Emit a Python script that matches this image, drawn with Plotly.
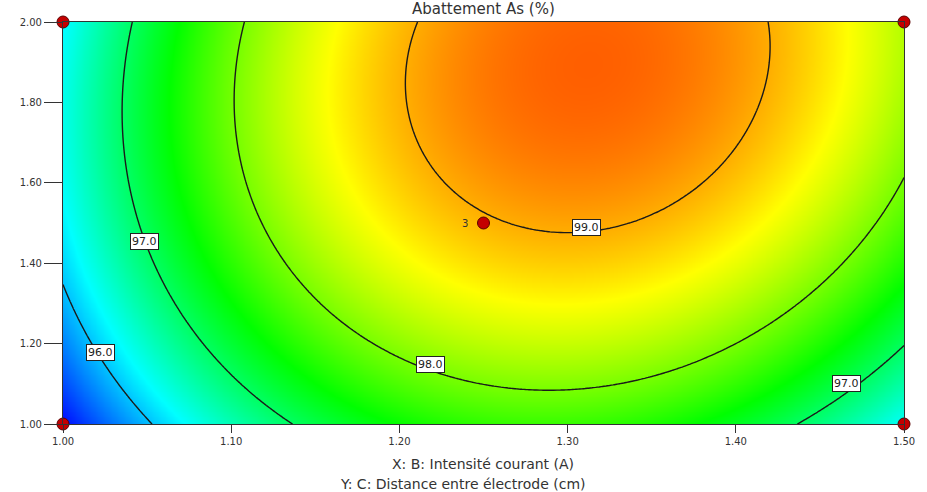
import numpy as np
import plotly.graph_objects as go

# ---- data ----
# Quadratic response model (coded units: a=(X-1.25)/0.25, b=(Y-1.5)/0.5), estimated from the contours
model_terms = ["const", "a", "b", "a2", "b2", "ab"]
model_coefs = [98.96, 0.792, 0.773, -1.95, -0.526, 0.222]

x_range = [1.00, 1.50]
y_range = [1.00, 2.00]
x_ticks = [1.00, 1.10, 1.20, 1.30, 1.40, 1.50]
y_ticks = [1.00, 1.20, 1.40, 1.60, 1.80, 2.00]
contour_levels = [96.0, 97.0, 98.0, 99.0]

# design points
design_x = [1.00, 1.00, 1.50, 1.50, 1.25]
design_y = [1.00, 2.00, 1.00, 2.00, 1.50]
design_txt = ["", "", "", "", "3"]

# contour label positions
label_x = [1.0225, 1.0486, 1.2186, 1.311, 1.4656]
label_y = [1.177, 1.455, 1.149, 1.490, 1.102]
label_txt = ["96.0", "97.0", "98.0", "99.0", "97.0"]

color_min, color_max = 95.1, 99.8

# ---- surface ----
xs = np.linspace(x_range[0], x_range[1], 241)
ys = np.linspace(y_range[0], y_range[1], 241)
X, Y = np.meshgrid(xs, ys)
A = (X - 1.25) / 0.25
B = (Y - 1.5) / 0.5
c = dict(zip(model_terms, model_coefs))
Z = c["const"] + c["a"] * A + c["b"] * B + c["a2"] * A**2 + c["b2"] * B**2 + c["ab"] * A * B

colorscale = [
    [0.0, "rgb(0,0,255)"],
    [0.25, "rgb(0,255,255)"],
    [0.5, "rgb(0,255,0)"],
    [0.75, "rgb(255,255,0)"],
    [1.0, "rgb(255,0,0)"],
]

fig = go.Figure()
fig.add_trace(go.Heatmap(x=xs, y=ys, z=Z, colorscale=colorscale, zmin=color_min, zmax=color_max,
                         zsmooth="best", showscale=False, hoverinfo="skip"))
fig.add_trace(go.Contour(x=xs, y=ys, z=Z, showscale=False, autocontour=False,
                         contours=dict(start=contour_levels[0], end=contour_levels[-1],
                                       size=1.0, showlabels=False, coloring="none"),
                         line=dict(color="#1a1a1a", width=1.4), hoverinfo="skip"))
fig.add_trace(go.Scatter(x=design_x, y=design_y, mode="markers", cliponaxis=False,
                         marker=dict(size=12, color="#c40000", line=dict(color="#5a0000", width=1)),
                         hoverinfo="skip", showlegend=False))

for xv, yv, t in zip(design_x, design_y, design_txt):
    if t:
        fig.add_annotation(x=xv, y=yv, text=t, showarrow=False, xanchor="right", xshift=-14,
                           font=dict(family="DejaVu Sans", size=10, color="#333"))

for xv, yv, t in zip(label_x, label_y, label_txt):
    fig.add_annotation(x=xv, y=yv, text=t, showarrow=False, bgcolor="white",
                       bordercolor="#222", borderwidth=1, borderpad=1,
                       font=dict(family="DejaVu Sans", size=11, color="#222"))

fig.add_annotation(text="Abattement As (%)", x=0.5, xref="paper", y=1.0, yref="paper",
                   yanchor="bottom", yshift=2, showarrow=False,
                   font=dict(family="DejaVu Sans", size=15, color="#333"))
fig.add_annotation(text="X: B: Intensité courant (A)", x=0.499, xref="paper", y=0, yref="paper",
                   yanchor="top", yshift=-30, showarrow=False,
                   font=dict(family="DejaVu Sans", size=14, color="#333"))
fig.add_annotation(text="Y: C: Distance entre électrode (cm)", x=0.475, xref="paper", y=0, yref="paper",
                   yanchor="top", yshift=-50, showarrow=False,
                   font=dict(family="DejaVu Sans", size=14, color="#333"))

axis_common = dict(showgrid=False, zeroline=False, showline=True, mirror=True,
                   linecolor="#333", linewidth=1.2, ticks="outside", tickcolor="#333",
                   tickformat=".2f", tickfont=dict(family="DejaVu Sans", size=10, color="#333"))
fig.update_xaxes(range=x_range, tickvals=x_ticks, ticklen=8, **axis_common)
fig.update_yaxes(range=y_range, tickvals=y_ticks, ticklen=18, **axis_common)

fig.update_layout(width=927, height=492, margin=dict(l=63, r=20, t=22, b=68),
                  paper_bgcolor="white", plot_bgcolor="white", showlegend=False)

fig.write_html("out.html")
